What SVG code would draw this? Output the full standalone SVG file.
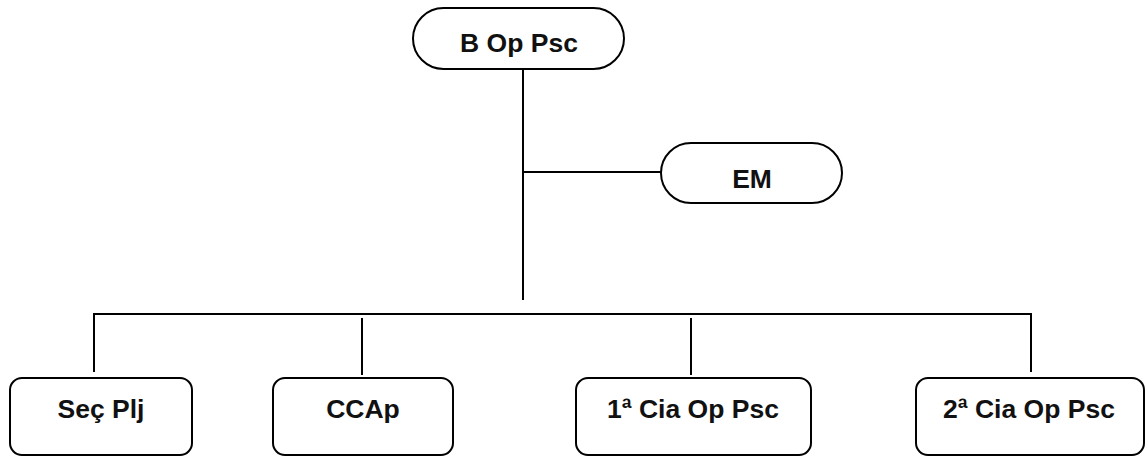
<svg xmlns="http://www.w3.org/2000/svg" width="1146" height="457" viewBox="0 0 1146 457">
<style>
.box{fill:#fff;stroke:#000;stroke-width:2}
.lbl{font-family:"Liberation Sans",Arial,sans-serif;font-weight:bold;font-size:26.5px;fill:#111;text-anchor:middle}
.con{stroke:#000;stroke-width:2;fill:none}
</style>
<rect width="1146" height="457" fill="#fff"/>
<g id="connectors">
<line class="con" x1="523" y1="69" x2="523" y2="300"/>
<line class="con" x1="523" y1="172" x2="661" y2="172"/>
<polyline class="con" points="94,372 94,314 1031,314 1031,372"/>
<line class="con" x1="362" y1="318" x2="362" y2="375"/>
<line class="con" x1="691" y1="318" x2="691" y2="375"/>
</g>
<g id="node-bop">
<rect class="box" x="413" y="8" width="211" height="61" rx="30.5"/>
<text class="lbl" x="519" y="52">B Op Psc</text>
</g>
<g id="node-em">
<rect class="box" x="661" y="143" width="181" height="60" rx="30"/>
<text class="lbl" x="752" y="188">EM</text>
</g>
<g id="node-secplj">
<rect class="box" x="10" y="378" width="182" height="77" rx="12"/>
<text class="lbl" x="101" y="418">Seç Plj</text>
</g>
<g id="node-ccap">
<rect class="box" x="273" y="378" width="180" height="77" rx="12"/>
<text class="lbl" x="363" y="418">CCAp</text>
</g>
<g id="node-1cia">
<rect class="box" x="576" y="378" width="235" height="77" rx="12"/>
<text class="lbl" x="693" y="418">1ª Cia Op Psc</text>
</g>
<g id="node-2cia">
<rect class="box" x="916" y="378" width="228" height="77" rx="12"/>
<text class="lbl" x="1029" y="418">2ª Cia Op Psc</text>
</g>
</svg>
